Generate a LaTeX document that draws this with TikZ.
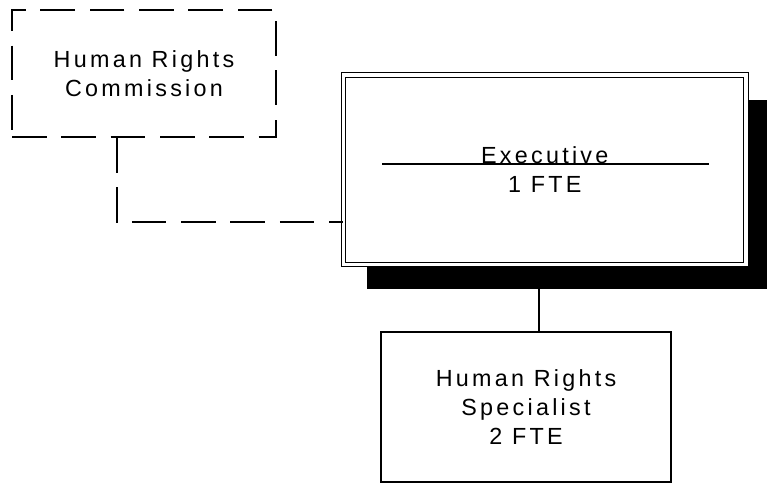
\documentclass[tikz,border=0pt]{standalone}
\usepackage{fontspec}
\setmainfont{Liberation Sans}[LetterSpace=14]
\usetikzlibrary{backgrounds,shadows}
\begin{document}
\begin{tikzpicture}[x=0.75pt,y=0.75pt,
  box/.style={draw,line width=1pt,fill=white,align=center,inner sep=0pt,
    font=\fontsize{17.5}{21.5}\selectfont},
  dashline/.style={line width=1.7pt,dash pattern=on 26pt off 11pt}]
\useasboundingbox (0,0) rectangle (767,483);
\path
(117,261) coordinate (bend);
\node[box,dashline,minimum width=198pt,minimum height=95.25pt] (hrc) at (144,409.5) {Human Rights\\Commission};
\node[box,double,double distance=2.4pt,minimum width=301.9pt,minimum height=142.1pt,
  drop shadow={shadow xshift=17.6pt,shadow yshift=-18.4pt,fill=black,opacity=1}] (exec) at (544.75,313.25) {Executive\\1 FTE};
\node[box,minimum width=217.5pt,minimum height=112.5pt] (spec) at (526,76) {Human Rights\\Specialist\\2 FTE};
\draw[line width=0.8pt] (382,319)--(709,319);
\draw[dashline] (hrc.south -| bend)--(bend)--(bend -| exec.west);
\begin{scope}[on background layer]
\draw[line width=0.8pt] (spec.north -| 539,0)--(exec.south -| 539,0);
\end{scope}
\end{tikzpicture}
\end{document}
